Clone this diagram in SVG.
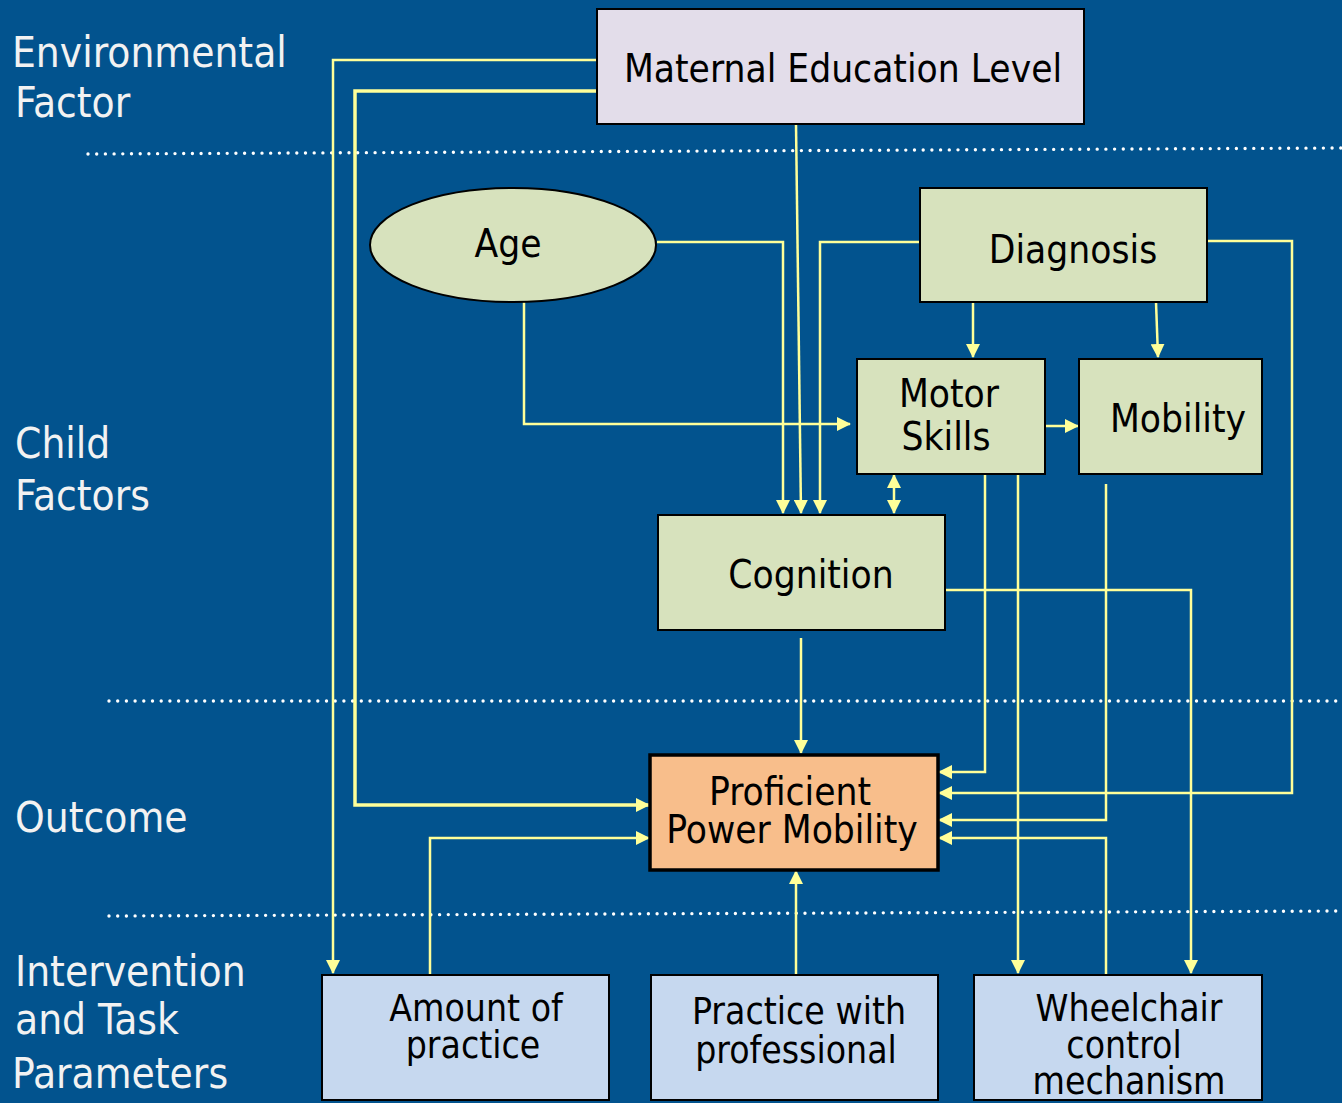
<svg xmlns="http://www.w3.org/2000/svg" width="1342" height="1103" viewBox="0 0 1342 1103">
  <defs>
    <marker id="arr" viewBox="0 0 14 14" refX="13" refY="7" markerWidth="14" markerHeight="14" markerUnits="userSpaceOnUse" orient="auto-start-reverse">
      <path d="M0,0 L14,7 L0,14 Z" fill="#FFFF99"/>
    </marker>
    <style>
      .bg { fill: #02538E; }
      .dots { stroke: #FFFFFF; stroke-width: 3.4; stroke-linecap: round; stroke-dasharray: 0 8.7; fill: none; }
      .side { font-family: "DejaVu Sans Condensed", "DejaVu Sans", sans-serif; font-size: 42px; fill: #F2F2F2; }
      .lbl { font-family: "DejaVu Sans Condensed", "DejaVu Sans", sans-serif; font-size: 38.5px; fill: #000000; text-anchor: middle; }
      .tight { font-size: 37px; }
      .box { stroke: #000000; stroke-width: 2; }
      .env { fill: #E3DDEA; }
      .child { fill: #D7E2BD; }
      .out { fill: #F8BE8B; stroke: #000000; stroke-width: 3.5; }
      .task { fill: #C6D8EF; }
      .wire-a { fill: none; stroke: #FFFF99; stroke-width: 2.5; marker-end: url(#arr); }
    </style>
  </defs>

  <rect class="bg" x="0" y="0" width="1342" height="1103"/>

  <!-- band separators -->
  <g id="separators">
    <line class="dots" x1="88" y1="154" x2="1342" y2="148"/>
    <line class="dots" x1="109" y1="701" x2="1342" y2="701"/>
    <line class="dots" x1="109" y1="916" x2="1342" y2="911"/>
  </g>

  <!-- band titles -->
  <g id="band-labels">
    <text class="side" x="12" y="67">Environmental</text>
    <text class="side" x="15" y="117">Factor</text>
    <text class="side" x="15" y="458">Child</text>
    <text class="side" x="15" y="510">Factors</text>
    <text class="side" x="15" y="832">Outcome</text>
    <text class="side" x="15" y="986">Intervention</text>
    <text class="side" x="15" y="1034">and Task</text>
    <text class="side" x="12" y="1088">Parameters</text>
  </g>

  <!-- connectors -->
  <g id="connectors">
    <polyline class="wire-a" points="597,60 333,60 333,973"/>
    <polyline class="wire-a" style="stroke-width:3.5" points="597,91 355,91 355,805 649,805"/>
    <polyline class="wire-a" points="796,124 801,513"/>
    <polyline class="wire-a" points="657,242 783,242 783,513"/>
    <polyline class="wire-a" points="920,242 820,242 820,513"/>
    <polyline class="wire-a" points="524,302 524,424 850,424"/>
    <polyline class="wire-a" points="973,302 973,357"/>
    <polyline class="wire-a" points="1156,302 1158,357"/>
    <polyline class="wire-a" points="1045,426 1078,426"/>
    <line class="wire-a" style="marker-start:url(#arr)" x1="894" y1="475" x2="894" y2="513"/>
    <polyline class="wire-a" points="801,638 801,753"/>
    <polyline class="wire-a" points="985,474 985,772 939,772"/>
    <polyline class="wire-a" points="1018,474 1018,973"/>
    <polyline class="wire-a" points="1207,241 1292,241 1292,793 939,793"/>
    <polyline class="wire-a" points="1106,484 1106,820 939,820"/>
    <polyline class="wire-a" points="945,590 1191,590 1191,973"/>
    <polyline class="wire-a" points="1106,975 1106,838 939,838"/>
    <polyline class="wire-a" points="430,975 430,838 649,838"/>
    <polyline class="wire-a" points="796,975 796,871"/>
  </g>

  <!-- nodes -->
  <g id="maternal-education">
    <rect class="box env" x="597" y="9" width="487" height="115"/>
    <text class="lbl" x="843" y="82">Maternal Education Level</text>
  </g>
  <g id="age">
    <ellipse class="box child" cx="513" cy="245" rx="143" ry="57"/>
    <text class="lbl" x="508" y="257">Age</text>
  </g>
  <g id="diagnosis">
    <rect class="box child" x="920" y="188" width="287" height="114"/>
    <text class="lbl" x="1073" y="263">Diagnosis</text>
  </g>
  <g id="motor-skills">
    <rect class="box child" x="857" y="359" width="188" height="115"/>
    <text class="lbl" x="949" y="407">Motor</text>
    <text class="lbl" x="946" y="450">Skills</text>
  </g>
  <g id="mobility">
    <rect class="box child" x="1079" y="359" width="183" height="115"/>
    <text class="lbl" x="1178" y="432">Mobility</text>
  </g>
  <g id="cognition">
    <rect class="box child" x="658" y="515" width="287" height="115"/>
    <text class="lbl" x="811" y="588">Cognition</text>
  </g>
  <g id="proficient-power-mobility">
    <rect class="out" x="650" y="755" width="288" height="115"/>
    <text class="lbl" x="790" y="805">Proficient</text>
    <text class="lbl" x="792" y="843">Power Mobility</text>
  </g>
  <g id="amount-of-practice">
    <rect class="box task" x="322" y="975" width="287" height="125"/>
    <text class="lbl tight" x="476" y="1021">Amount of</text>
    <text class="lbl tight" x="473" y="1058">practice</text>
  </g>
  <g id="practice-with-professional">
    <rect class="box task" x="651" y="975" width="287" height="125"/>
    <text class="lbl tight" x="799" y="1024">Practice with</text>
    <text class="lbl tight" x="796" y="1063">professional</text>
  </g>
  <g id="wheelchair-control">
    <rect class="box task" x="974" y="975" width="288" height="125"/>
    <text class="lbl tight" x="1129" y="1021">Wheelchair</text>
    <text class="lbl tight" x="1124" y="1058">control</text>
    <text class="lbl tight" x="1129" y="1094">mechanism</text>
  </g>
</svg>
